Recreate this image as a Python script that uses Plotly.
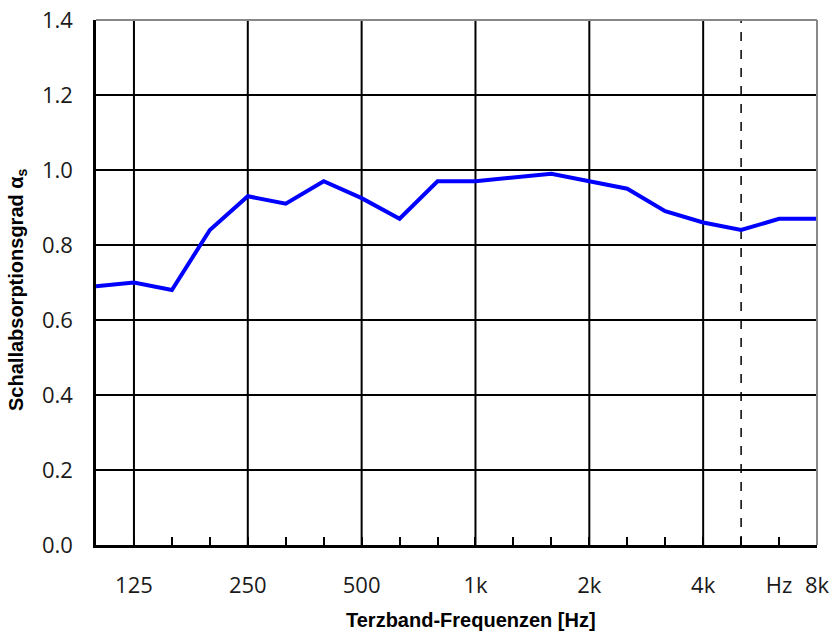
import plotly.graph_objects as go

bands = ["100", "125", "160", "200", "250", "315", "400", "500", "630", "800",
         "1000", "1250", "1600", "2000", "2500", "3150", "4000", "5000", "6300", "8000"]
alpha_s = [0.69, 0.70, 0.68, 0.84, 0.93, 0.91, 0.97, 0.925, 0.87, 0.97,
           0.97, 0.98, 0.99, 0.97, 0.95, 0.89, 0.86, 0.84, 0.87, 0.87]
tick_text = ["", "125", "", "", "250", "", "", "500", "", "",
             "1k", "", "", "2k", "", "", "4k", "", "Hz", "8k"]
major_bands = ["125", "250", "500", "1000", "2000", "4000"]
dashed_band = "5000"
x_title = "Terzband-Frequenzen [Hz]"
y_title = "Schallabsorptionsgrad α<sub>s</sub>"

xpos = list(range(len(bands)))

fig = go.Figure()
fig.add_trace(go.Scatter(x=xpos, y=alpha_s, mode="lines",
                         line=dict(color="#0000FF", width=4),
                         showlegend=False, hoverinfo="skip"))

shapes = []
for b in major_bands:
    i = bands.index(b)
    shapes.append(dict(type="line", xref="x", yref="paper", x0=i, x1=i, y0=0, y1=1,
                       line=dict(color="black", width=2), layer="between"))
i5 = bands.index(dashed_band)
shapes.append(dict(type="line", xref="x", yref="paper", x0=i5, x1=i5, y0=0, y1=1,
                   line=dict(color="black", width=1.5, dash="dash"), layer="between"))
# gray top/right frame
shapes.append(dict(type="line", xref="paper", yref="paper", x0=0, x1=1, y0=1, y1=1,
                   line=dict(color="#888888", width=2), layer="above"))
shapes.append(dict(type="line", xref="paper", yref="paper", x0=1, x1=1, y0=0, y1=1,
                   line=dict(color="#888888", width=2), layer="above"))

tickfont = dict(family="Open Sans", size=22, color="#1a1a1a")
titlefont = dict(family="Liberation Sans", size=20, color="black", weight="bold")

fig.update_layout(
    width=830, height=635,
    margin=dict(l=96, r=13, t=20, b=90),
    paper_bgcolor="white", plot_bgcolor="white",
    shapes=shapes,
    xaxis=dict(range=[0, len(bands) - 1], tickmode="array", tickvals=xpos, ticktext=tick_text,
               ticks="inside", ticklen=8, tickwidth=2, tickcolor="black",
               showline=True, linecolor="black", linewidth=2.5, automargin=False,
               showgrid=False, zeroline=False, tickfont=tickfont, ticklabelstandoff=19),
    yaxis=dict(range=[0, 1.4], tickmode="linear", tick0=0, dtick=0.2, tickformat=".1f",
               ticks="inside", ticklen=8, tickwidth=2, tickcolor="black",
               showline=True, linecolor="black", linewidth=2.5, automargin=False,
               showgrid=True, gridcolor="black", gridwidth=2, zeroline=False,
               tickfont=tickfont, ticklabelstandoff=16),
    annotations=[
        dict(text=x_title, xref="paper", yref="paper", x=0.52, y=-0.143,
             xanchor="center", yanchor="middle", showarrow=False, font=titlefont),
        dict(text=y_title, xref="paper", yref="paper", x=-0.108, y=0.486, textangle=-90,
             xanchor="center", yanchor="middle", showarrow=False, font=titlefont),
    ],
)

fig.write_html("out.html", config={"displayModeBar": False},
               post_script="document.body.style.margin='0px';")
